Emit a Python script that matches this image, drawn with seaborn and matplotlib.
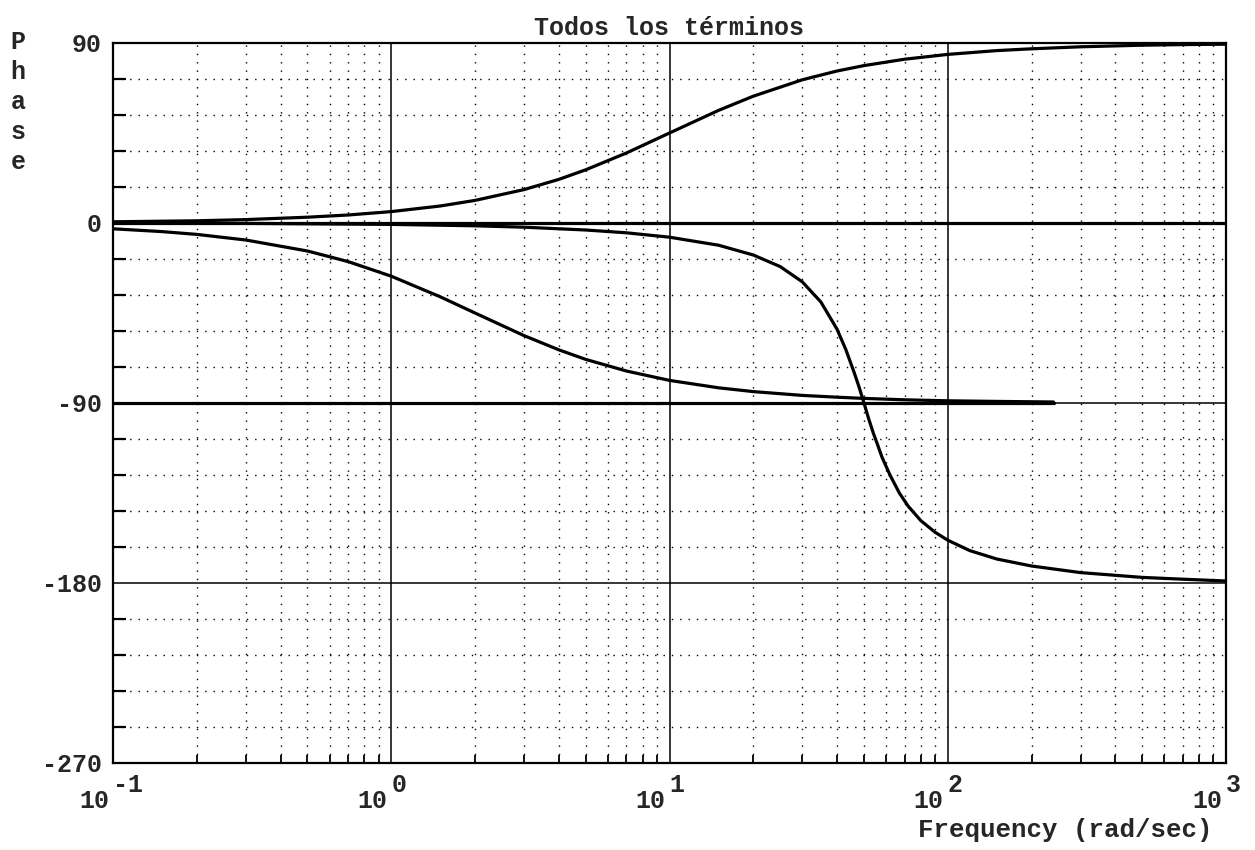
import numpy as np
import pandas as pd
import matplotlib
matplotlib.use("Agg")
import matplotlib.pyplot as plt
from matplotlib.ticker import FixedLocator, FuncFormatter, NullFormatter
import seaborn as sns

# Phase contributions of every term of the transfer function (degrees)
freq_gain = [0.1, 1000]
phase_gain = [0.0, 0.0]

freq_integ = [0.1, 240]
phase_integ = [-90.0, -90.0]

freq_zero = [0.1, 0.15, 0.2, 0.3, 0.5, 0.7, 1, 1.5, 2, 3, 4, 5, 7, 10, 15, 20,
             30, 40, 50, 70, 100, 150, 200, 300, 500, 700, 1000]
phase_zero = [0.6, 0.9, 1.1, 1.7, 2.9, 4.0, 5.7, 8.5, 11.3, 16.7, 21.8, 26.6,
              35.0, 45.0, 56.3, 63.4, 71.6, 76.0, 78.7, 81.9, 84.3, 86.2, 87.1,
              88.1, 88.9, 89.2, 89.4]

freq_pole = [0.1, 0.15, 0.2, 0.3, 0.5, 0.7, 1, 1.5, 2, 3, 4, 5, 7, 10, 15, 20,
             30, 40, 50, 70, 100, 150, 240]
phase_pole = [-2.9, -4.3, -5.7, -8.5, -14.0, -19.3, -26.6, -36.9, -45.0, -56.3,
              -63.4, -68.2, -74.0, -78.7, -82.4, -84.3, -86.2, -87.1, -87.7,
              -88.4, -88.9, -89.2, -89.5]

freq_res = [0.1, 0.3, 1, 2, 3, 5, 7, 10, 15, 20, 25, 30, 35, 40, 43, 46, 48, 50,
            52, 54, 56, 58, 62, 67, 72, 80, 90, 100, 120, 150, 200, 300, 500,
            700, 1000]
phase_res = [-0.1, -0.2, -0.7, -1.4, -2.1, -3.5, -4.9, -7.1, -11.1, -16.0,
             -21.8, -29.4, -39.5, -53.1, -63.2, -74.4, -82.0, -90.0, -98.0,
             -105.0, -111.0, -117.0, -126.0, -135.0, -141.5, -148.8, -154.6,
             -158.6, -163.8, -168.0, -171.5, -174.8, -177.2, -178.1, -179.0]

y_major = [-270, -180, -90, 0, 90]
x_decades = [0.1, 1, 10, 100, 1000]
x_exponents = ["-1", "0", "1", "2", "3"]

sns.set_theme(style="white")
plt.rcParams["font.family"] = ["Liberation Mono", "DejaVu Sans Mono"]
plt.rcParams["font.weight"] = "bold"

FS = 18

fig = plt.figure(figsize=(12.55, 8.5), dpi=100)
ax = fig.add_axes([113 / 1255, 1 - 763 / 850, (1226 - 113) / 1255, (763 - 43) / 850])

series = [
    (freq_gain, phase_gain),
    (freq_integ, phase_integ),
    (freq_zero, phase_zero),
    (freq_pole, phase_pole),
    (freq_res, phase_res),
]
for fx, fy in series:
    df = pd.DataFrame({"w": fx, "phase": fy})
    sns.lineplot(data=df, x="w", y="phase", ax=ax, color="black", lw=2.3,
                 estimator=None, sort=False, zorder=5)

ax.set_xscale("log")
ax.set_xlim(0.1, 1000)
ax.set_ylim(-270, 90)

# ticks and grid
ax.xaxis.set_major_locator(FixedLocator(x_decades))
ax.xaxis.set_minor_locator(FixedLocator(
    [m * d for d in x_decades[:-1] for m in range(2, 10)]))
ax.xaxis.set_major_formatter(NullFormatter())
ax.xaxis.set_minor_formatter(NullFormatter())
ax.yaxis.set_major_locator(FixedLocator(y_major))
ax.yaxis.set_minor_locator(FixedLocator(
    [v for v in range(-270, 91, 18) if v % 90 != 0]))
ax.yaxis.set_major_formatter(FuncFormatter(lambda v, p: "%d" % v))

ax.tick_params(axis="x", which="major", length=0)
ax.tick_params(axis="x", which="minor", direction="in", length=6, width=1.3,
               bottom=True, top=False, color="black")
ax.tick_params(axis="y", which="major", length=0, pad=8, labelsize=FS)
ax.tick_params(axis="y", which="minor", direction="in", length=9.5, width=1.6,
               left=True, right=False, color="black")

# decade labels: base "10" ending at the decade, full-size raised exponent
xt = ax.get_xaxis_transform()
for d, e in zip(x_decades, x_exponents):
    ax.annotate("10", xy=(d, 0), xycoords=xt, xytext=(-4, -45),
                textcoords="offset pixels", ha="right", va="baseline",
                fontsize=FS, fontweight="bold", annotation_clip=False)
    ax.annotate(e, xy=(d, 0), xycoords=xt, xytext=(0, -29),
                textcoords="offset pixels", ha="left", va="baseline",
                fontsize=FS, fontweight="bold", annotation_clip=False)

ax.grid(which="major", color="black", lw=1.1, ls="-")
ax.grid(which="minor", color="black", lw=1.0, ls=(0, (1, 5)))
ax.set_axisbelow(True)

for s in ax.spines.values():
    s.set_color("black")
    s.set_linewidth(1.6)
    s.set_zorder(6)

ax.set_title("Todos los términos", fontsize=FS, fontweight="bold", pad=6)
ax.set_xlabel("Frequency (rad/sec)", fontsize=18.5, fontweight="bold",
              ha="right", va="top")
ax.xaxis.set_label_coords((1213 - 113) / 1113, -(818 - 763) / 720)
ax.set_ylabel("P\nh\na\ns\ne", rotation=0, fontsize=FS, fontweight="bold",
              linespacing=1.32, va="top", ha="center")
ax.yaxis.set_label_coords((18 - 113) / 1113, (763 - 30) / 720)

fig.savefig("out.png", dpi=100, facecolor="white")
